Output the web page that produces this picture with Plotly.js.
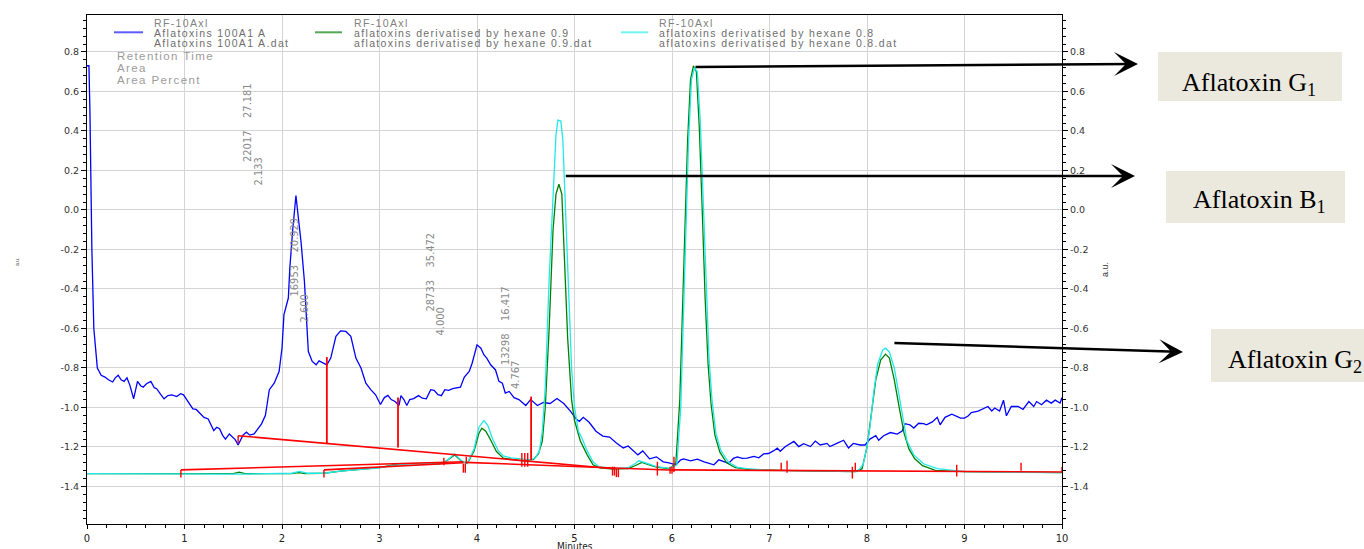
<!DOCTYPE html>
<html><head><meta charset="utf-8">
<script src="https://cdn.plot.ly/plotly-3.0.1.min.js"></script>
<style>html,body{margin:0;padding:0;background:#fff}#chart{width:1364px;height:549px}</style>
</head><body><div id="chart"></div>
<script>
// ---------------- DATA ----------------
const legendHeader = 'RF-10Axl';
const seriesNames = ['Aflatoxins 100A1 A', 'aflatoxins derivatised by hexane 0.9', 'aflatoxins derivatised by hexane 0.8'];
const seriesFiles = ['Aflatoxins 100A1 A.dat', 'aflatoxins derivatised by hexane 0.9.dat', 'aflatoxins derivatised by hexane 0.8.dat'];
const reportFields = ['Retention Time', 'Area', 'Area Percent'];
const peakLabels = ['22017\u00a0\u00a0\u00a0\u00a027.181', '2.133', '16953\u00a0\u00a0\u00a0\u00a020.929', '2.600',
                    '28733\u00a0\u00a0\u00a0\u00a035.472', '4.000', '13298\u00a0\u00a0\u00a0\u00a016.417', '4.767'];
const compounds = ['Aflatoxin G<sub>1</sub>', 'Aflatoxin B<sub>1</sub>', 'Aflatoxin G<sub>2</sub>'];
const compoundPeakTime = [6.21, 4.88, 8.25];
const compoundPeakSignal = [0.724, 0.172, -0.673];
const xAxisTitle = 'Minutes';
const yAxisTitle = 'a.u.';

const xTickValues = [0,1,2,3,4,5,6,7,8,9,10];
const xTickLabels = ['0','1','2','3','4','5','6','7','8','9','10'];
const yTickValues = [-1.4,-1.2,-1.0,-0.8,-0.6,-0.4,-0.2,0.0,0.2,0.4,0.6,0.8];
const yTickLabels = ['-1.4','-1.2','-1.0','-0.8','-0.6','-0.4','-0.2','0.0','0.2','0.4','0.6','0.8'];

// Blue: Aflatoxins 100A1 A
const blueTime = [
 0,0.02,0.03,0.05,0.07,0.09,0.106,0.145,0.184,0.22,
 0.263,0.29,0.32,0.35,0.38,0.41,0.44,0.478,0.50,0.518,
 0.55,0.576,0.61,0.655,0.69,0.714,0.75,0.79,0.83,0.87,
 0.92,0.96,0.99,1.04,1.086,1.12,1.165,1.20,1.243,1.27,
 1.30,1.33,1.36,1.39,1.42,1.46,1.49,1.52,1.55,1.60,
 1.635,1.67,1.714,1.75,1.79,1.83,1.853,1.87,1.92,1.97,
 2.00,2.02,2.065,2.08,2.11,2.143,2.17,2.195,2.23,2.25,
 2.27,2.31,2.35,2.38,2.42,2.46,2.50,2.553,2.60,2.655,
 2.706,2.758,2.81,2.86,2.91,2.96,3.01,3.05,3.086,3.12,
 3.16,3.20,3.22,3.25,3.28,3.31,3.35,3.40,3.44,3.48,
 3.525,3.56,3.60,3.635,3.67,3.71,3.75,3.80,3.83,3.87,
 3.92,3.95,4.00,4.04,4.07,4.10,4.14,4.19,4.225,4.26,
 4.29,4.33,4.38,4.43,4.50,4.55,4.62,4.68,4.75,4.82,
 4.89,4.96,5.02,5.05,5.09,5.15,5.22,5.29,5.36,5.43,
 5.50,5.55,5.60,5.65,5.70,5.77,5.84,5.91,5.97,6.04,
 6.09,6.12,6.19,6.26,6.33,6.43,6.48,6.55,6.58,6.63,
 6.67,6.72,6.77,6.84,6.89,6.94,6.99,7.04,7.08,7.11,
 7.16,7.25,7.30,7.35,7.42,7.47,7.52,7.59,7.62,7.69,
 7.76,7.81,7.86,7.93,7.98,8.03,8.09,8.12,8.17,8.24,
 8.31,8.36,8.39,8.44,8.48,8.53,8.58,8.61,8.67,8.72,
 8.75,8.80,8.87,8.96,9.00,9.04,9.07,9.14,9.19,9.24,
 9.28,9.31,9.36,9.40,9.43,9.48,9.55,9.60,9.66,9.71,
 9.74,9.79,9.84,9.89,9.93,9.98,10.0];
const blueSignal = [
 0.73,0.73,0.50,-0.20,-0.60,-0.72,-0.80,-0.837,-0.846,-0.86,
 -0.871,-0.85,-0.837,-0.86,-0.868,-0.85,-0.888,-0.956,-0.90,-0.868,
 -0.89,-0.897,-0.88,-0.868,-0.90,-0.905,-0.93,-0.956,-0.94,-0.936,
 -0.945,-0.93,-0.936,-0.97,-1.007,-1.01,-1.032,-1.05,-1.058,-1.09,
 -1.117,-1.10,-1.108,-1.14,-1.16,-1.134,-1.15,-1.163,-1.19,-1.14,
 -1.125,-1.14,-1.134,-1.11,-1.083,-1.04,-0.97,-0.91,-0.877,-0.818,
 -0.70,-0.53,-0.446,-0.295,-0.10,0.073,-0.05,-0.16,-0.362,-0.55,
 -0.717,-0.767,-0.784,-0.764,-0.775,-0.784,-0.75,-0.64,-0.612,-0.615,
 -0.64,-0.75,-0.80,-0.877,-0.91,-0.936,-0.985,-0.95,-0.939,-0.96,
 -0.97,-0.99,-0.94,-0.96,-0.99,-0.96,-0.955,-0.94,-0.953,-0.956,
 -0.91,-0.913,-0.935,-0.94,-0.91,-0.913,-0.905,-0.90,-0.897,-0.846,
 -0.818,-0.776,-0.683,-0.70,-0.733,-0.75,-0.784,-0.81,-0.868,-0.877,
 -0.927,-0.919,-0.95,-0.96,-0.99,-0.96,-0.99,-0.975,-0.98,-0.955,
 -0.98,-1.02,-1.06,-1.07,-1.05,-1.075,-1.12,-1.145,-1.15,-1.18,
 -1.205,-1.195,-1.22,-1.24,-1.22,-1.26,-1.25,-1.275,-1.28,-1.29,
 -1.265,-1.26,-1.27,-1.262,-1.275,-1.29,-1.265,-1.275,-1.283,-1.258,
 -1.25,-1.258,-1.256,-1.248,-1.255,-1.235,-1.233,-1.22,-1.206,-1.222,
 -1.199,-1.172,-1.198,-1.183,-1.198,-1.17,-1.19,-1.182,-1.198,-1.182,
 -1.166,-1.205,-1.182,-1.19,-1.19,-1.16,-1.143,-1.166,-1.143,-1.127,
 -1.135,-1.12,-1.082,-1.088,-1.104,-1.08,-1.082,-1.088,-1.073,-1.05,
 -1.088,-1.05,-1.034,-1.054,-1.054,-1.042,-1.026,-1.018,-1.007,-0.995,
 -1.018,-1.003,-1.018,-0.963,-1.042,-0.995,-0.995,-1.01,-0.97,-0.995,
 -0.97,-0.986,-0.963,-0.978,-0.963,-0.978,-0.95];

// Green: hexane 0.9
const greenTime = [
 0,1.0,1.50,1.56,1.62,2.10,2.17,2.24,2.43,2.60,
 2.80,3.00,3.15,3.30,3.50,3.62,3.69,3.77,3.84,3.90,
 3.97,4.02,4.05,4.09,4.14,4.20,4.27,4.38,4.48,4.58,
 4.63,4.67,4.70,4.74,4.78,4.81,4.84,4.87,4.90,4.93,
 4.97,5.00,5.06,5.13,5.19,5.26,5.40,5.55,5.62,5.69,
 5.76,5.84,5.98,6.04,6.08,6.12,6.16,6.19,6.22,6.25,
 6.28,6.31,6.34,6.37,6.40,6.44,6.49,6.56,6.65,6.80,
 7.00,7.50,7.88,7.95,8.00,8.05,8.09,8.14,8.19,8.23,
 8.28,8.33,8.38,8.43,8.49,8.57,8.70,9.00,9.50,10.0];
const greenSignal = [
 -1.335,-1.335,-1.335,-1.327,-1.335,-1.335,-1.33,-1.335,-1.333,-1.322,
 -1.312,-1.305,-1.29,-1.284,-1.283,-1.286,-1.27,-1.24,-1.272,-1.283,
 -1.22,-1.13,-1.105,-1.12,-1.165,-1.223,-1.257,-1.262,-1.27,-1.263,
 -1.235,-1.17,-1.00,-0.60,-0.10,0.08,0.13,0.08,-0.25,-0.65,
 -0.96,-1.066,-1.17,-1.24,-1.29,-1.306,-1.312,-1.31,-1.295,-1.278,
 -1.29,-1.302,-1.31,-1.28,-0.96,-0.35,0.35,0.66,0.73,0.70,
 0.42,0.00,-0.45,-0.78,-0.98,-1.14,-1.225,-1.28,-1.305,-1.315,
 -1.318,-1.322,-1.325,-1.31,-1.20,-1.00,-0.86,-0.76,-0.73,-0.75,
 -0.86,-1.00,-1.13,-1.21,-1.26,-1.295,-1.318,-1.325,-1.328,-1.33];

// Cyan: hexane 0.8
const cyanTime = [
 0,1.0,1.50,1.60,2.10,2.18,2.26,2.43,2.60,2.80,
 3.00,3.15,3.30,3.50,3.62,3.69,3.77,3.84,3.90,3.97,
 4.02,4.07,4.11,4.16,4.22,4.27,4.35,4.45,4.55,4.60,
 4.64,4.67,4.70,4.74,4.78,4.81,4.83,4.86,4.88,4.91,
 4.94,4.97,5.00,5.04,5.08,5.13,5.19,5.25,5.40,5.55,
 5.62,5.66,5.73,5.84,5.98,6.05,6.09,6.13,6.17,6.20,
 6.23,6.26,6.29,6.32,6.35,6.38,6.41,6.45,6.50,6.58,
 6.67,6.77,7.00,7.50,7.90,7.96,8.00,8.03,8.07,8.11,
 8.16,8.19,8.23,8.28,8.33,8.38,8.41,8.48,8.58,8.72,
 9.00,9.50,10.0];
const cyanSignal = [
 -1.335,-1.335,-1.335,-1.337,-1.333,-1.324,-1.333,-1.333,-1.322,-1.313,
 -1.306,-1.292,-1.286,-1.285,-1.287,-1.27,-1.235,-1.27,-1.283,-1.21,
 -1.10,-1.066,-1.09,-1.16,-1.22,-1.245,-1.255,-1.26,-1.265,-1.255,
 -1.22,-1.12,-0.90,-0.35,0.10,0.38,0.455,0.45,0.36,0.00,
 -0.45,-0.80,-1.00,-1.12,-1.16,-1.22,-1.275,-1.30,-1.31,-1.305,
 -1.285,-1.27,-1.28,-1.30,-1.308,-1.29,-1.00,-0.35,0.35,0.66,
 0.72,0.70,0.45,0.05,-0.40,-0.75,-0.96,-1.13,-1.217,-1.278,
 -1.303,-1.31,-1.318,-1.322,-1.325,-1.29,-1.20,-1.10,-0.92,-0.78,
 -0.71,-0.70,-0.72,-0.80,-0.95,-1.10,-1.17,-1.24,-1.285,-1.31,
 -1.325,-1.328,-1.33];

// Red: integration baselines, drop lines and event marks
const baseStartTime = [0.963, 2.43, 1.55, 3.88, 6.00];
const baseStartSignal = [-1.316, -1.316, -1.143, -1.278, -1.316];
const baseEndTime = [3.86, 3.86, 5.41, 6.03, 10.0];
const baseEndSignal = [-1.275, -1.28, -1.31, -1.318, -1.327];
const dropTime = [2.46, 3.19, 4.555];
const dropTop = [-0.745, -0.95, -0.945];
const dropBase = [-1.181, -1.203, -1.266];
const eventTime = [0.963,1.55,2.43,3.66,3.86,3.88,3.89,4.46,4.49,4.52,5.39,5.41,5.43,5.45,5.85,5.98,6.00,6.02,7.12,7.18,7.85,7.88,8.92,9.58,10.0];
const eventTop = [-1.316,-1.143,-1.316,-1.254,-1.284,-1.284,-1.249,-1.23,-1.23,-1.23,-1.30,-1.30,-1.31,-1.31,-1.275,-1.30,-1.30,-1.25,-1.28,-1.27,-1.30,-1.28,-1.29,-1.28,-1.30];
const eventBottom = [-1.355,-1.182,-1.355,-1.292,-1.33,-1.33,-1.284,-1.30,-1.30,-1.30,-1.345,-1.345,-1.353,-1.353,-1.345,-1.336,-1.336,-1.327,-1.32,-1.33,-1.36,-1.32,-1.35,-1.32,-1.33];

// ---------------- BUILD ----------------
function segs(x0, y0, x1, y1) {
  const xs = [], ys = [];
  for (let i = 0; i < x0.length; i++) { xs.push(x0[i], x1[i], null); ys.push(y0[i], y1[i], null); }
  return {xs, ys};
}
const base = segs(baseStartTime, baseStartSignal, baseEndTime, baseEndSignal);
const drops = segs(dropTime, dropTop, dropTime, dropBase);
const evs = segs(eventTime, eventTop, eventTime, eventBottom);

const traces = [
  {x: blueTime, y: blueSignal, name: seriesNames[0], type: 'scatter', mode: 'lines', line: {color: '#0000ff', width: 1.3}, showlegend: false},
  {x: greenTime, y: greenSignal, name: seriesNames[1], type: 'scatter', mode: 'lines', line: {color: '#008000', width: 1.3}, showlegend: false},
  {x: cyanTime, y: cyanSignal, name: seriesNames[2], type: 'scatter', mode: 'lines', line: {color: '#22e8e8', width: 1.3}, showlegend: false},
  {x: base.xs, y: base.ys, yaxis: 'y2', type: 'scatter', mode: 'lines', line: {color: '#ff0000', width: 1.6}, showlegend: false, hoverinfo: 'skip'},
  {x: drops.xs, y: drops.ys, yaxis: 'y2', type: 'scatter', mode: 'lines', line: {color: '#ff0000', width: 1.8}, showlegend: false, hoverinfo: 'skip'},
  {x: evs.xs, y: evs.ys, yaxis: 'y2', type: 'scatter', mode: 'lines', line: {color: '#ff0000', width: 1.4}, showlegend: false, hoverinfo: 'skip'}
];

const NARROW = '"Liberation Sans Narrow", "DejaVu Sans Condensed", "Liberation Sans", Arial, sans-serif';
const SANS = '"Liberation Sans", Arial, sans-serif';
const SERIF = '"Liberation Serif", "Times New Roman", serif';
const PX = p => (p - 87) / 975;
const PY = p => (524 - p) / 509;

const annotations = [];
const shapes = [];
// legend (three columns)
const colText = [151.6, 352, 657];
const colLine = [[114, 143], [315, 342], [621, 648]];
const legendLineColors = ['#5c5cff', '#55a855', '#6ff5f5'];
for (let i = 0; i < 3; i++) {
  const rows = [legendHeader, seriesNames[i], seriesFiles[i]];
  const rowY = [23.3, 33.3, 43.3];
  rows.forEach((t, r) => annotations.push({
    xref: 'paper', yref: 'paper', x: PX(colText[i]), y: PY(rowY[r]), xanchor: 'left', yanchor: 'middle',
    text: '<span style="letter-spacing:1.35px">' + t + '</span>', showarrow: false,
    font: {family: SANS, size: 10.5, color: r === 0 ? '#808080' : '#6e6e6e'}
  }));
  shapes.push({type: 'line', xref: 'paper', yref: 'paper', x0: PX(colLine[i][0]), x1: PX(colLine[i][1]), y0: PY(32.3), y1: PY(32.3),
    line: {color: legendLineColors[i], width: 2}});
}
// report fields
const fieldY = [55.5, 68, 80.5];
reportFields.forEach((t, r) => annotations.push({
  xref: 'paper', yref: 'paper', x: PX(115), y: PY(fieldY[r]), xanchor: 'left', yanchor: 'middle',
  text: '<span style="letter-spacing:1.4px">' + t + '</span>', showarrow: false,
  font: {family: SANS, size: 11.5, color: '#9c9c9c'}
}));
// rotated peak labels
const labelPos = [[248, 123], [258, 171.5], [294, 257.5], [304, 308.5], [430, 272.5], [440, 321.5], [505, 326], [515, 375]];
peakLabels.forEach((t, i) => annotations.push({
  xref: 'paper', yref: 'paper', x: PX(labelPos[i][0]), y: PY(labelPos[i][1]), xanchor: 'center', yanchor: 'middle',
  text: t, textangle: -90, showarrow: false, font: {family: NARROW, size: 11, color: '#8a8a8a'}
}));
// arrows to compound boxes
const arrowTip = [[1138, 64], [1135, 176], [1183, 352]];
compounds.forEach((c, i) => annotations.push({
  xref: 'x', yref: 'y', x: (arrowTip[i][0] - 87) / 97.5, y: (210 - arrowTip[i][1]) / 197.5,
  axref: 'x', ayref: 'y', ax: compoundPeakTime[i], ay: compoundPeakSignal[i],
  text: ' ', showarrow: true, arrowhead: 3, arrowsize: 1.6, arrowwidth: 2.5, arrowcolor: '#000', standoff: 0, startstandoff: 0
}));
// compound boxes (rect shapes) and their labels
const boxRect = [[1158, 52, 1342, 101], [1166, 171, 1345, 223], [1211, 329, 1390, 382]];
const boxTextCenter = [[1249, 83.5], [1259.5, 201.5], [1295, 360.5]];
compounds.forEach((c, i) => {
  shapes.push({type: 'rect', xref: 'paper', yref: 'paper', layer: 'above',
    x0: PX(boxRect[i][0]), x1: PX(boxRect[i][2]), y0: PY(boxRect[i][3]), y1: PY(boxRect[i][1]),
    fillcolor: '#ebe8dd', line: {width: 0}});
  annotations.push({
    xref: 'paper', yref: 'paper', x: PX(boxTextCenter[i][0]), y: PY(boxTextCenter[i][1]), xanchor: 'center', yanchor: 'middle',
    showarrow: false, text: c, font: {family: SERIF, size: 26, color: '#000'}
  });
});
// axis captions
annotations.push({xref: 'paper', yref: 'paper', x: PX(12), y: PY(262), text: yAxisTitle, textangle: -90, showarrow: false,
  font: {family: SANS, size: 5, color: '#555'}});
annotations.push({xref: 'paper', yref: 'paper', x: PX(574.5), y: PY(538.5), xanchor: 'center', yanchor: 'top',
  text: xAxisTitle, showarrow: false, font: {family: NARROW, size: 10, color: '#222'}});

const yAxisCommon = {
  range: [-1.59, 0.987], tickmode: 'array', tickvals: yTickValues, ticktext: yTickLabels,
  showline: true, linecolor: '#000', linewidth: 1, ticks: 'outside', ticklen: 5, tickcolor: '#000',
  tickfont: {family: '"DejaVu Sans", Verdana, sans-serif', size: 9.5, color: '#333'},
  minor: {tickmode: 'linear', tick0: 0, dtick: 0.04, ticks: 'outside', ticklen: 3, tickcolor: '#000', showgrid: false},
  zeroline: false, fixedrange: true
};

const layout = {
  width: 1364, height: 549,
  margin: {l: 87, r: 302, t: 15, b: 25},
  paper_bgcolor: '#fff', plot_bgcolor: '#fff',
  showlegend: false,
  xaxis: {
    range: [0, 10], tickmode: 'array', tickvals: xTickValues, ticktext: xTickLabels,
    showgrid: true, gridcolor: '#d4d4d4', gridwidth: 1, zeroline: false,
    showline: true, linecolor: '#000', linewidth: 1, mirror: true,
    ticks: 'outside', ticklen: 4, tickcolor: '#000',
    minor: {tickmode: 'linear', tick0: 0, dtick: 0.2, ticks: 'outside', ticklen: 2.5, tickcolor: '#000', showgrid: false},
    tickfont: {family: NARROW, size: 11, color: '#222'}
  },
  yaxis: Object.assign({}, yAxisCommon, {showgrid: true, gridcolor: '#d4d4d4', gridwidth: 1}),
  yaxis2: Object.assign({}, yAxisCommon, {overlaying: 'y', side: 'right', showgrid: false,
    title: {text: yAxisTitle, font: {family: SANS, size: 9, color: '#333'}, standoff: 14}}),
  annotations: annotations,
  shapes: shapes
};

Plotly.newPlot('chart', traces, layout, {displayModeBar: false, staticPlot: true});
</script></body></html>
